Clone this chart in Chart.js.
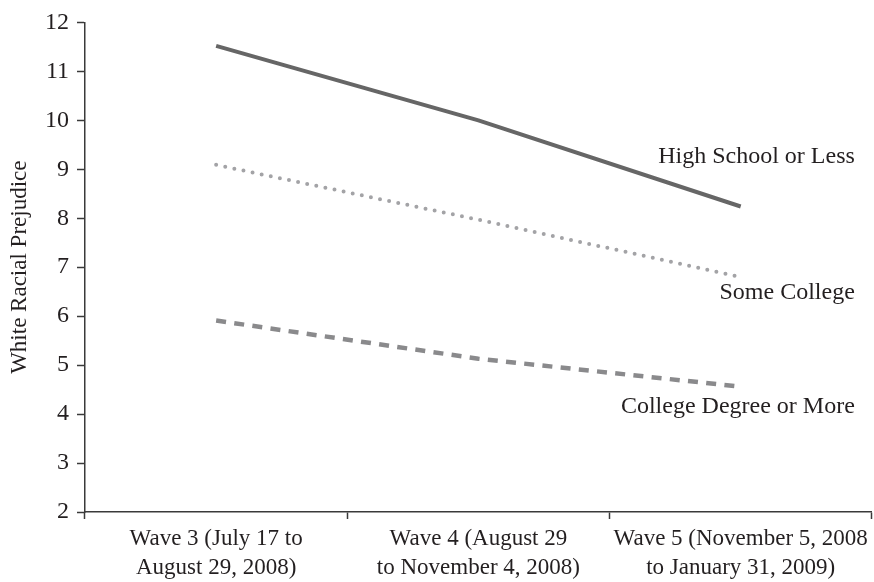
<!DOCTYPE html>
<html>
<head>
<meta charset="utf-8">
<script src="https://cdn.jsdelivr.net/npm/chart.js@4"></script>
<style>
  html, body { margin: 0; padding: 0; background: #fff; }
  #wrap { width: 874px; height: 582px; }
</style>
</head>
<body>
<div id="wrap"><canvas id="c" width="874" height="582"></canvas></div>
<script>
const waves = [
    ["Wave 3 (July 17 to", "August 29, 2008)"],
    ["Wave 4 (August 29", "to November 4, 2008)"],
    ["Wave 5 (November 5, 2008", "to January 31, 2009)"]
];
const highSchool = [11.52, 10.0, 8.24];
const someCollege = [9.09, 7.97, 6.8];
const collegeDegree = [5.91, 5.13, 4.56];
const seriesNames = ["High School or Less", "Some College", "College Degree or More"];

const FONT = "'Liberation Serif', 'DejaVu Serif', serif";

// names at the right end of each line
const endLabels = {
    id: 'endLabels',
    afterDatasetsDraw(chart) {
        const ctx = chart.ctx;
        const right = chart.chartArea.right - 17;
        const shift = [-50, 16, 20];
        ctx.save();
        ctx.font = "24px " + FONT;
        ctx.fillStyle = "#231f20";
        ctx.textAlign = "right";
        ctx.textBaseline = "middle";
        chart.data.datasets.forEach((ds, i) => {
            const pts = chart.getDatasetMeta(i).data;
            const last = pts[pts.length - 1];
            ctx.fillText(ds.label, right, last.y + shift[i]);
        });
        ctx.restore();
    }
};

new Chart(document.getElementById('c'), {
    type: 'line',
    data: {
        labels: waves,
        datasets: [{
            label: seriesNames[0],
            data: highSchool,
            borderColor: "#666666",
            borderWidth: 4
        }, {
            label: seriesNames[1],
            data: someCollege,
            borderColor: "#a3a3a6",
            borderWidth: 4,
            borderCapStyle: 'round',
            borderDash: [0, 9.3]
        }, {
            label: seriesNames[2],
            data: collegeDegree,
            borderColor: "#8a8a8c",
            borderWidth: 4.5,
            borderDash: [10, 8.3]
        }]
    },
    options: {
        responsive: false,
        animation: false,
        layout: { padding: { top: 16, right: 1 } },
        elements: { point: { radius: 0 }, line: { tension: 0 } },
        plugins: {
            legend: { display: false },
            tooltip: { enabled: false }
        },
        scales: {
            x: {
                offset: true,
                grid: {
                    offset: true,
                    drawOnChartArea: false,
                    tickLength: 7,
                    tickWidth: 1.5,
                    tickColor: "#3a3a3a"
                },
                border: { color: "#3a3a3a", width: 1.5 },
                ticks: {
                    color: "#231f20",
                    font: { family: FONT, size: 23, lineHeight: 1.25 },
                    maxRotation: 0,
                    padding: 6
                },
                afterFit(scale) { scale.height = 70; }
            },
            y: {
                min: 2,
                max: 12,
                grid: {
                    drawOnChartArea: false,
                    tickLength: 8,
                    tickWidth: 1.5,
                    tickColor: "#3a3a3a"
                },
                border: { color: "#3a3a3a", width: 1.5 },
                ticks: {
                    stepSize: 1,
                    color: "#231f20",
                    font: { family: FONT, size: 24 },
                    padding: 8
                },
                title: {
                    display: true,
                    text: "White Racial Prejudice",
                    color: "#231f20",
                    font: { family: FONT, size: 23 },
                    padding: { top: 6, bottom: 0 }
                },
                afterFit(scale) { scale.width = 85; }
            }
        }
    },
    plugins: [endLabels]
});
</script>
</body>
</html>
